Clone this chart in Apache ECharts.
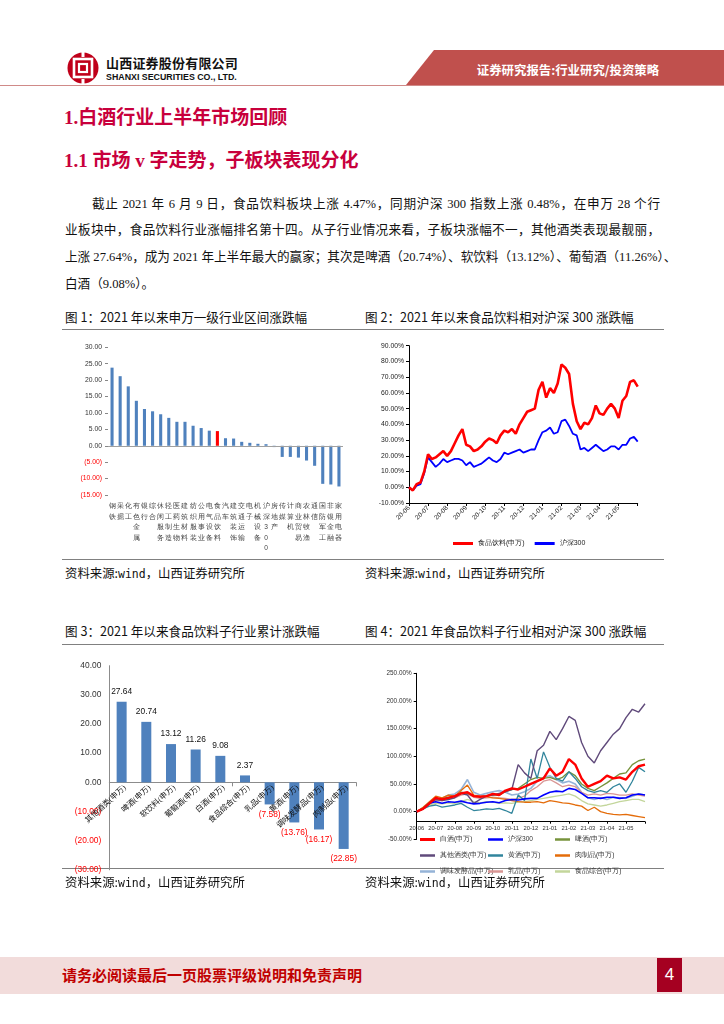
<!DOCTYPE html>
<html><head><meta charset="utf-8">
<script src="https://cdn.jsdelivr.net/npm/echarts@6.0.0/dist/echarts.min.js"></script>
<style>
html,body{margin:0;padding:0;background:#fff;}
body{width:724px;height:1024px;position:relative;overflow:hidden;font-family:"Noto Sans CJK SC",sans-serif;color:#000;}
.abs{position:absolute;white-space:nowrap;}
.h1{font-family:"Liberation Serif","Noto Sans CJK SC",serif;font-weight:700;font-size:19px;color:#C8003C;line-height:24px;}
.para{position:absolute;font-family:"Liberation Serif","Noto Sans CJK SC",serif;font-size:12.6px;line-height:18px;color:#111;text-align:justify;text-align-last:justify;white-space:nowrap;}
.cap{font-size:12.6px;line-height:16px;color:#111;}
.src{font-size:12.4px;line-height:16px;color:#111;}
.hr{position:absolute;left:62px;width:602px;height:1.3px;background:#808080;}
.chart{position:absolute;}
</style></head><body>

<!-- header -->
<svg class="abs" style="left:67px;top:51px" width="32" height="34" viewBox="0 0 32 34">
  <circle cx="16" cy="17" r="15.5" fill="#C0001A"/>
  <rect x="7" y="8" width="18" height="18" fill="none" stroke="#fff" stroke-width="2.6"/>
  <rect x="12" y="13" width="8" height="8" fill="none" stroke="#fff" stroke-width="2.2"/>
  <rect x="14.5" y="0" width="3" height="6" fill="#fff"/>
  <rect x="14.5" y="28" width="3" height="6" fill="#fff"/>
</svg>
<div class="abs" style="left:106px;top:54px;font-size:13px;font-weight:700;line-height:18px;letter-spacing:0.2px;color:#111;">山西证券股份有限公司</div>
<div class="abs" style="left:106px;top:71px;font-family:'Liberation Sans',Arial,sans-serif;font-size:9.6px;font-weight:700;line-height:12px;color:#111;transform:scaleX(0.92);transform-origin:left center;">SHANXI SECURITIES CO., LTD.</div>
<div class="abs" style="left:406px;top:50px;width:318px;height:35px;background:#C0504D;clip-path:polygon(28px 0,318px 0,318px 35px,0 35px);"></div>
<div class="abs" style="left:470px;top:61px;width:196px;text-align:center;font-size:12.4px;font-weight:700;line-height:18px;color:#fff;">证券研究报告:行业研究/投资策略</div>
<div class="abs" style="left:0;top:84.5px;width:724px;height:1.5px;background:#D08A88;"></div>

<!-- headings -->
<div class="abs h1" style="left:64px;top:106px;">1.白酒行业上半年市场回顾</div>
<div class="abs h1" style="left:64px;top:149px;">1.1 市场 v 字走势，子板块表现分化</div>

<div class="para" style="left:92px;top:195px;width:568px;">截止 2021 年 6 月 9 日，食品饮料板块上涨 4.47%，同期沪深 300 指数上涨 0.48%，在申万 28 个行</div>
<div class="para" style="left:65px;top:221px;width:595px;">业板块中，食品饮料行业涨幅排名第十四。从子行业情况来看，子板块涨幅不一，其他酒类表现最靓丽，</div>
<div class="para" style="left:65px;top:248px;width:595px;">上涨 27.64%，成为 2021 年上半年最大的赢家；其次是啤酒（20.74%）、软饮料（13.12%）、葡萄酒（11.26%）、</div>
<div class="para" style="left:65px;top:275px;text-align:left;text-align-last:left;">白酒（9.08%）。</div>

<!-- row 1 -->
<div class="abs cap" style="left:65px;top:309px;">图 1：2021 年以来申万一级行业区间涨跌幅</div>
<div class="abs cap" style="left:365px;top:309px;">图 2：2021 年以来食品饮料相对沪深 300 涨跌幅</div>
<div class="hr" style="top:328.5px;"></div>
<div id="c1" class="chart" style="left:62px;top:331px;width:300px;height:226px;"></div>
<div id="c2" class="chart" style="left:362px;top:331px;width:302px;height:226px;"></div>
<div class="hr" style="top:558.5px;"></div>
<div class="abs src" style="left:65px;top:565px;">资料来源:<span style="font-family:'DejaVu Sans Mono',monospace;font-size:11.5px;">wind</span>，山西证券研究所</div>
<div class="abs src" style="left:365px;top:565px;">资料来源:<span style="font-family:'DejaVu Sans Mono',monospace;font-size:11.5px;">wind</span>，山西证券研究所</div>

<!-- row 2 -->
<div class="abs cap" style="left:65px;top:623px;">图 3：2021 年以来食品饮料子行业累计涨跌幅</div>
<div class="abs cap" style="left:365px;top:623px;">图 4：2021 年食品饮料子行业相对沪深 300 涨跌幅</div>
<div class="hr" style="top:643.5px;"></div>
<div class="hr" style="top:868px;"></div>
<div id="c3" class="chart" style="left:62px;top:646px;width:300px;height:230px;"></div>
<div id="c4" class="chart" style="left:362px;top:646px;width:302px;height:230px;"></div>
<div class="abs src" style="left:65px;top:874px;">资料来源:<span style="font-family:'DejaVu Sans Mono',monospace;font-size:11.5px;">wind</span>，山西证券研究所</div>
<div class="abs src" style="left:365px;top:874px;">资料来源:<span style="font-family:'DejaVu Sans Mono',monospace;font-size:11.5px;">wind</span>，山西证券研究所</div>

<!-- footer -->
<div class="abs" style="left:0;top:957px;width:724px;height:37px;background:#F2DCDB;"></div>
<div class="abs" style="left:62px;top:965px;font-size:15px;font-weight:700;line-height:20px;color:#C00000;">请务必阅读最后一页股票评级说明和免责声明</div>
<div class="abs" style="left:657px;top:958px;width:25px;height:34px;background:#A50021;color:#fff;font-family:'Liberation Sans',Arial,sans-serif;font-size:17px;line-height:34px;text-align:center;">4</div>

<script>
// ---------- Chart 1 data ----------
const industryNames = ['钢铁','采掘','化工','有色金属','银行','综合','休闲服务','轻工制造','医药生物','建筑材料','纺织服装','公用事业','电气设备','食品饮料','汽车','建筑装饰','交通运输','电子','机械设备','沪深300','房地产','传媒','计算机','商业贸易','农林牧渔','通信','国防军工','非银金融','家用电器'];
const industryValues = [23.8,21.2,18.1,13.7,11.2,10.5,9.6,8.5,7.3,7.3,6.1,5.4,4.6,4.47,2.3,2.2,1.2,0.9,0.6,0.48,-0.4,-3.4,-3.4,-3.6,-4.5,-6.1,-11.6,-11.8,-12.4];
const highlightName = '食品饮料';

// ---------- Chart 2 data ----------
const monthLabels = ['20-06','20-07','20-08','20-09','20-10','20-11','20-12','21-01','21-02','21-03','21-04','21-05'];
const foodBevRel = [0,-2,2,3,10,21,18,19,21,23,20,23,28,33,37,27,26,23,24,26,29,31,30,28,33,36,35,37,34,40,44,48,49,50,62,67,57,63,60,66,78,76,72,53,42,37,41,40,44,52,47,46,50,53,50,44,55,58,67,68,64];
const hs300Rel = [0,-2,1,2,9,19,16,13,15,18,16,17,18,18,17,14,16,13,14,15,17,19,17,16,18,22,21,22,23,24,22,23,24,24,30,35,36,38,34,35,42,43,39,34,33,24,25,23,25,27,25,23,24,26,26,24,27,27,31,32,29];
const c2Names = ['食品饮料(申万)','沪深300'];

// ---------- Chart 3 data ----------
const subNames = ['其他酒类(申万)','啤酒(申万)','软饮料(申万)','葡萄酒(申万)','白酒(申万)','食品综合(申万)','乳品(申万)','黄酒(申万)','调味发酵品(申万)','肉制品(申万)'];
const subValues = [27.64,20.74,13.12,11.26,9.08,2.37,-7.58,-13.76,-16.17,-22.85];

// ---------- Chart 4 data ----------
const c4Names = ['白酒(申万)','沪深300','啤酒(申万)','其他酒类(申万)','黄酒(申万)','肉制品(申万)','调味发酵品(申万)','乳品(申万)','食品综合(申万)'];
const baijiu = [0,5,15,25,22,25,28,33,35,28,27,28,32,30,38,42,40,45,50,55,60,78,65,72,95,85,60,45,50,55,65,60,62,58,72,82,85];
const hs300b = [0,5,15,18,15,18,17,19,16,14,15,17,18,16,20,22,21,23,24,24,30,35,37,36,42,40,33,25,25,24,26,26,24,25,30,32,30];
const beer = [0,6,16,24,23,26,28,35,33,28,27,29,30,30,36,40,42,50,58,62,60,62,58,62,72,65,50,42,38,45,52,60,68,70,85,92,95];
const otherLiquor = [0,5,14,22,20,22,25,33,30,15,22,28,30,33,36,40,85,70,60,110,120,145,130,150,172,165,125,100,88,110,125,140,150,170,185,180,195];
const huangjiu = [0,5,10,12,8,10,12,15,8,2,3,5,4,6,2,-3,30,20,95,60,108,80,60,55,72,60,45,38,35,38,35,45,50,35,55,80,72];
const pork = [0,8,18,28,25,30,28,38,48,30,28,27,25,24,22,20,18,17,17,18,16,20,18,16,15,12,10,2,8,0,-3,-5,-6,-5,-7,-9,-11];
const seasoning = [0,6,16,22,24,30,32,40,58,35,30,33,36,38,35,30,32,36,42,55,62,65,58,52,55,50,35,25,22,25,22,26,25,24,28,32,30];
const dairy = [0,6,15,20,20,24,25,30,32,26,24,25,26,25,24,22,24,28,38,45,55,58,52,45,48,45,35,30,32,30,33,32,30,30,32,30,28];
const foodComp = [0,5,12,15,14,16,15,18,22,18,16,18,17,15,16,15,17,18,20,22,24,26,28,30,32,28,20,14,12,10,12,15,18,20,22,22,18];

const narrow = "'Liberation Sans Narrow','Liberation Sans',Arial,sans-serif";
const fmtNeg = v => { v = Number(v); return v < 0 ? '(' + Math.abs(v).toFixed(2) + ')' : v.toFixed(2); };

// ---------- Chart 1 ----------
const c1 = echarts.init(document.getElementById('c1'));
c1.setOption({
  animation: false,
  grid: {left: 46, right: 19, top: 16.3, bottom: 62, outerBoundsMode: 'none', containLabel: false},
  xAxis: {
    type: 'category', data: industryNames,
    axisLine: {show: false, onZero: false}, axisTick: {show: false},
    axisLabel: {interval: 0, margin: 6, fontSize: 6.6, lineHeight: 10.5, color: '#444',
      formatter: n => n.split('').join('\n')}
  },
  yAxis: {
    type: 'value', min: -15, max: 30, interval: 5,
    splitLine: {show: false}, axisLine: {show: false},
    axisTick: {show: true, length: 3, lineStyle: {color: '#888'}},
    axisLabel: {fontSize: 6.8, margin: 6, fontFamily: narrow,
      color: v => Number(v) < 0 ? '#FF0000' : '#333', formatter: fmtNeg}
  },
  series: [{
    type: 'bar', barWidth: '38%',
    data: industryValues.map((v, i) => ({value: v, itemStyle: {color: industryNames[i] === highlightName ? '#FF0000' : '#4F81BD'}})),
    markLine: {silent: true, symbol: 'none', label: {show: false}, lineStyle: {color: '#A0A0A0', width: 1, type: 'solid'}, data: [{yAxis: 0}]}
  }]
});

// ---------- Chart 2 ----------
const c2Cats = foodBevRel.map((_, i) => (i % 5 === 0 && monthLabels[i / 5]) ? monthLabels[i / 5] : '');
const c2 = echarts.init(document.getElementById('c2'));
c2.setOption({
  animation: false,
  grid: {left: 47, right: 26.3, top: 14.7, bottom: 54, outerBoundsMode: 'none', containLabel: false},
  legend: {
    left: 86, top: 204, icon: 'rect', itemWidth: 20, itemHeight: 3, itemGap: 10,
    textStyle: {fontSize: 7, color: '#222'}, data: c2Names
  },
  xAxis: {
    type: 'category', data: c2Cats, boundaryGap: false,
    axisLine: {onZero: false, lineStyle: {color: '#000', width: 1}},
    axisTick: {interval: i => i % 5 === 0, length: 3, lineStyle: {color: '#000'}},
    axisLabel: {interval: 0, rotate: 45, fontSize: 6.5, margin: 4, color: '#222', fontFamily: narrow}
  },
  yAxis: {
    type: 'value', min: -10, max: 90, interval: 10,
    splitLine: {show: false},
    axisLine: {show: true, lineStyle: {color: '#000', width: 1}},
    axisTick: {show: true, length: 3, lineStyle: {color: '#000'}},
    axisLabel: {fontSize: 6.8, margin: 5, color: '#222', fontFamily: narrow, formatter: v => Number(v).toFixed(2) + '%'}
  },
  series: [
    {name: c2Names[0], type: 'line', data: foodBevRel, showSymbol: false, lineStyle: {color: '#FF0000', width: 2.6}, itemStyle: {color: '#FF0000'}, z: 3},
    {name: c2Names[1], type: 'line', data: hs300Rel, showSymbol: false, lineStyle: {color: '#0000FF', width: 1.8}, itemStyle: {color: '#0000FF'}, z: 2}
  ]
});

// ---------- Chart 3 ----------
const c3 = echarts.init(document.getElementById('c3'));
c3.setOption({
  animation: false,
  grid: {left: 47.3, right: 6, top: 19.7, bottom: 6.2, outerBoundsMode: 'none', containLabel: false},
  xAxis: {
    type: 'category', data: subNames,
    axisLine: {onZero: true, lineStyle: {color: '#8C8C8C', width: 1}},
    axisTick: {show: true, length: 4, lineStyle: {color: '#8C8C8C'}},
    axisLabel: {show: false}
  },
  yAxis: {
    type: 'value', min: -30, max: 40, interval: 10,
    splitLine: {show: false},
    axisLine: {show: true, lineStyle: {color: '#8C8C8C', width: 1}},
    axisTick: {show: false},
    axisLabel: {fontSize: 8.4, margin: 8, fontFamily: narrow, color: v => Number(v) < 0 ? '#FF0000' : '#333', formatter: fmtNeg}
  },
  series: [{
    type: 'bar', barWidth: 10, itemStyle: {color: '#4F81BD'},
    label: {show: true, fontSize: 8.4, fontFamily: narrow, distance: 6, formatter: p => fmtNeg(p.value)},
    data: subValues.map(v => ({value: v, label: {position: v < 0 ? 'bottom' : 'top', color: v < 0 ? '#FF0000' : '#111'}}))
  }, {
    // category names anchored on the zero line (as in the reference)
    type: 'scatter', symbolSize: 1, itemStyle: {color: 'rgba(0,0,0,0)'}, silent: true, z: 5,
    data: subNames.map(() => 0),
    label: {show: true, opacity: 1, position: [4, 5], align: 'right', verticalAlign: 'middle', rotate: 42,
      fontSize: 7.8, color: '#111', fontFamily: "'Liberation Serif','Noto Sans CJK SC',serif",
      formatter: p => subNames[p.dataIndex]}
  }]
});

// ---------- Chart 4 ----------
const c4Cats = baijiu.map((_, i) => (i % 3 === 0 && monthLabels[i / 3]) ? monthLabels[i / 3] : '');
const c4Series = [baijiu, hs300b, beer, otherLiquor, huangjiu, pork, seasoning, dairy, foodComp];
const c4Colors = ['#FF0000','#0000FF','#77933C','#604A7B','#31859C','#E46C0A','#95B3D7','#D99694','#C3D69B'];
const c4Widths = [2.4,1.6,1.4,1.4,1.3,1.3,1.6,1.3,1.3];
const c4Z = [10,8,5,7,6,4,3,3,2];
const legendCols = [53, 121, 188];
const legendRows = [185, 201, 217];
const c4 = echarts.init(document.getElementById('c4'));
c4.setOption({
  animation: false,
  grid: {left: 54.7, right: 19, top: 27.3, bottom: 36.7, outerBoundsMode: 'none', containLabel: false},
  legend: c4Names.map((n, i) => ({
    left: legendCols[i % 3], top: legendRows[Math.floor(i / 3)], icon: 'rect',
    itemWidth: 15, itemHeight: i === 0 ? 3 : 2.5, textStyle: {fontSize: 6.6, color: '#333'}, data: [n]
  })),
  xAxis: {
    type: 'category', data: c4Cats, boundaryGap: false, offset: -17.6,
    axisLine: {onZero: false, lineStyle: {color: '#000', width: 1}},
    axisTick: {interval: i => i % 3 === 0, length: 2, lineStyle: {color: '#000'}},
    axisLabel: {interval: 0, fontSize: 5.8, margin: 4, color: '#333', fontFamily: narrow}
  },
  yAxis: {
    type: 'value', min: -50, max: 250, interval: 50,
    splitLine: {show: false},
    axisLine: {show: true, lineStyle: {color: '#000', width: 1}},
    axisTick: {show: true, length: 3, lineStyle: {color: '#000'}},
    axisLabel: {fontSize: 6.4, margin: 5, color: '#333', fontFamily: narrow, formatter: v => Number(v).toFixed(2) + '%'}
  },
  series: c4Series.map((d, i) => ({
    name: c4Names[i], type: 'line', data: d, showSymbol: false, z: c4Z[i],
    lineStyle: {color: c4Colors[i], width: c4Widths[i]}, itemStyle: {color: c4Colors[i]}
  }))
});
</script>
</body></html>
